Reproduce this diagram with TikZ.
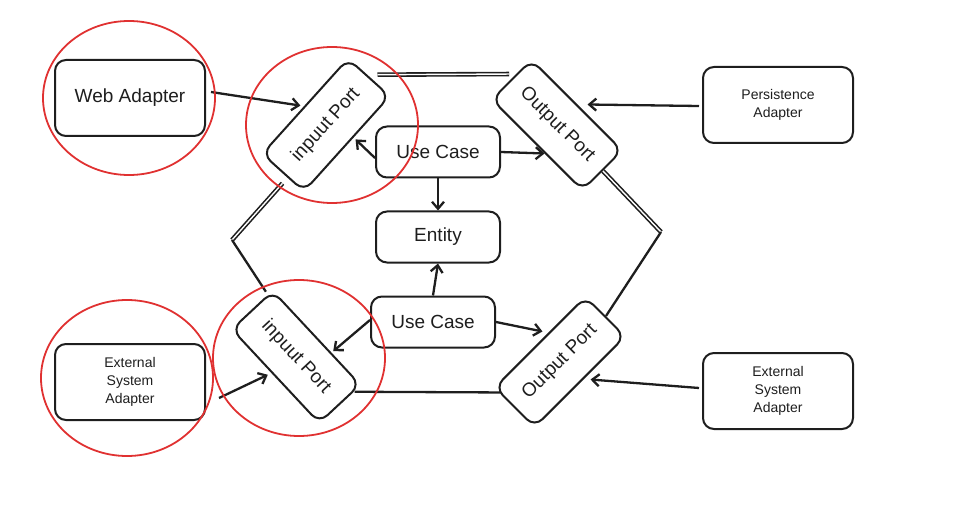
\documentclass[tikz,border=0pt]{standalone}
\usepackage{fontspec}
\setmainfont{Liberation Sans}
\usetikzlibrary{arrows.meta,positioning}
\definecolor{ink}{HTML}{1E1E1E}
\definecolor{ring}{HTML}{E03131}
\begin{document}
\begin{tikzpicture}[x=1pt,y=-1pt,node distance=85pt,on grid,
	>={Straight Barb[length=7pt,width=12pt]},
	every edge/.style={draw=ink,line width=2.3pt},
	box/.style={draw=ink,text=ink,line width=2pt,rounded corners=11pt,minimum width=124pt,minimum height=51pt,font=\fontsize{19}{22}\selectfont},
	adapter/.style={box,minimum width=150pt,minimum height=76pt},
	smalltext/.style={font=\fontsize{14}{18}\selectfont,align=center},
	port/.style={box,minimum width=128pt,minimum height=56pt},
	dbl/.style={double=white,double distance=1.4pt,line width=1.6pt},
	redring/.style={draw=ring,line width=1.8pt}]

	\useasboundingbox (0,0) rectangle (962,516);

	\node[box] (ent) at (438,237) {Entity};
	\node[box] (uc_1) [above=of ent] {Use Case};
	\node[box] (uc_2) [below=of ent,xshift=-5pt] {Use Case};

	\node[port,rotate=48] (in_1) at (326,125) {inpuut Port};
	\node[port,rotate=-45] (out_1) at (557,125) {Output Port};
	\node[port,rotate=-47] (in_2) at (296,357) {inpuut Port};
	\node[port,rotate=45] (out_2) at (560,362) {Output Port};

	\node[adapter] (ad_w) at (130,98) {Web Adapter};
	\node[adapter,smalltext] (ad_e1) [below=284pt of ad_w] {External\\System\\Adapter};
	\node[adapter,smalltext] (ad_p) at (778,105) {Persistence\\Adapter};
	\node[adapter,smalltext] (ad_e2) [below=286pt of ad_p] {External\\System\\Adapter};

	\coordinate (hex_l) at (232,240);
	\coordinate (hex_r) at (661,232);

	\path ([shift={(8,-2)}]in_1.east) edge[dbl] ([shift={(-2,-5)}]out_1.west)
		([shift={(0,10)}]in_1.west) edge[dbl] (hex_l)
		(out_1.east) edge[dbl] (hex_r)
		(hex_l) edge ([shift={(-7,2)}]in_2.north west)
		([shift={(-7,7)}]in_2.north east) edge ([shift={(7,5)}]out_2.north west)
		(out_2.east) edge (hex_r);

	\path[->]
		([shift={(5,-6)}]ad_w.east) edge ([shift={(-4,0)}]in_1.north)
		([yshift=-6pt]uc_1.west) edge ([shift={(8,-5)}]in_1.south)
		(uc_1.east) edge ([shift={(8,8)}]out_1.south)
		(uc_1.south) edge (ent.north)
		(uc_2.north) edge (ent.south)
		([yshift=2pt]uc_2.west) edge ([shift={(16,14)}]in_2.north)
		(uc_2.east) edge ([shift={(3,-10)}]out_2.north)
		([shift={(-3,1)}]ad_p.west) edge ([shift={(10,0)}]out_1.north)
		([shift={(-3,-3)}]ad_e2.west) edge ([shift={(10,-3)}]out_2.south)
		([shift={(13,16)}]ad_e1.east) edge ([shift={(-7,-2)}]in_2.south);

	\draw[redring] ([xshift=-1pt]ad_w) ellipse [x radius=86pt,y radius=77pt];
	\draw[redring] ([xshift=-3pt,yshift=4pt]ad_e1) ellipse [x radius=86pt,y radius=78pt];
	\draw[redring] ([xshift=6pt]in_1) ellipse [x radius=86pt,y radius=78pt];
	\draw[redring] ([xshift=3pt,yshift=-1pt]in_2) ellipse [x radius=86pt,y radius=78pt];
\end{tikzpicture}
\end{document}
